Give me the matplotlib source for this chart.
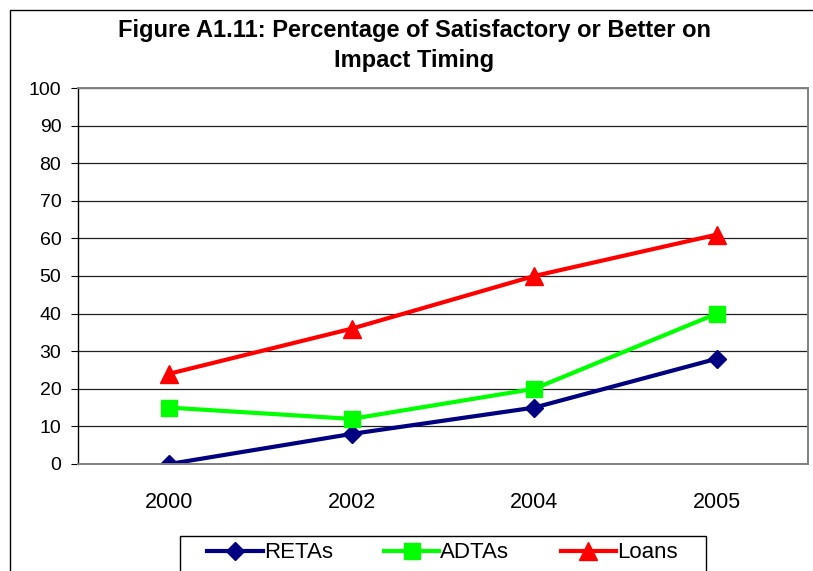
import matplotlib
matplotlib.use("Agg")
import matplotlib.pyplot as plt
from matplotlib.patches import Rectangle
import numpy as np

plt.rcParams['font.family'] = ['Liberation Sans', 'DejaVu Sans']

years = ['2000', '2002', '2004', '2005']
retas = [0, 8, 15, 28]
adtas = [15, 12, 20, 40]
loans = [24, 36, 50, 61]

W, H = 813, 571
fig = plt.figure(figsize=(W / 100, H / 100), dpi=100)

# outer chart border (runs off the right and bottom edges)
fig.patches.append(Rectangle((10 / W, -0.1), 1.1, 1 - 10 / H + 0.1,
                             transform=fig.transFigure, fill=False,
                             edgecolor='black', linewidth=1.0))

ax = fig.add_axes([78 / W, 1 - 464 / H, 730 / W, 376 / H])
x = np.arange(len(years))

ax.plot(x, retas, color='#000080', lw=3, marker='D', ms=9, label='RETAs')
ax.plot(x, adtas, color='#00FF00', lw=3, marker='s', ms=11, label='ADTAs')
ax.plot(x, loans, color='#FF0000', lw=3, marker='^', ms=13, label='Loans')

ax.set_xlim(-0.5, len(years) - 0.5)
ax.set_ylim(0, 100)
ax.set_yticks(range(0, 101, 10))
ax.set_xticks(x)
ax.set_xticklabels(years)
ax.tick_params(axis='y', labelsize=14, length=5, color='black', pad=7)
ax.tick_params(axis='x', labelsize=15.5, length=0, pad=20)
ax.grid(axis='y', color='#202020', lw=0.9)
ax.set_axisbelow(True)
for s in ['top', 'right', 'bottom']:
    ax.spines[s].set_color('#808080')
    ax.spines[s].set_linewidth(1.4)
ax.spines['left'].set_color('black')
ax.spines['left'].set_linewidth(1.0)

fig.text(414 / W, 1 - 30 / H, 'Figure A1.11: Percentage of Satisfactory or Better on',
         ha='center', va='center', fontsize=17, fontweight='bold')
fig.text(414 / W, 1 - 60 / H, 'Impact Timing',
         ha='center', va='center', fontsize=17, fontweight='bold')

# legend box drawn separately so it can run off the bottom edge
fig.patches.append(Rectangle((180 / W, -0.1), 526 / W, 1 - 536 / H + 0.1,
                             transform=fig.transFigure, fill=False,
                             edgecolor='black', linewidth=1.0))
leg = fig.legend(loc='center left', bbox_to_anchor=(207 / W, 1 - 553 / H), ncol=3,
                 fontsize=16, frameon=False,
                 handlelength=2.5, handletextpad=0.05, columnspacing=2.3,
                 borderpad=0, borderaxespad=0)

fig.savefig('out.png', dpi=100)
